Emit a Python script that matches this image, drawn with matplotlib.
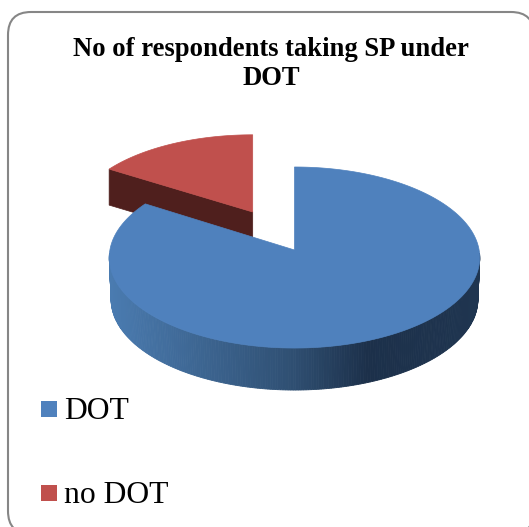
import numpy as np
import matplotlib
matplotlib.use("Agg")
import matplotlib.pyplot as plt
from matplotlib.patches import FancyBboxPatch, Polygon, Rectangle
from matplotlib.colors import LinearSegmentedColormap

title = "No of respondents taking SP under\nDOT"
labels = ["DOT", "no DOT"]
values = [84, 16]
colors = ["#4f81bd", "#c0504d"]

# pie geometry in pixels of the picture
rx = 184.6
ry = 89.9
persp = 0.083
blue_apex = (294.5, 250)
blue_depth = 42
red_apex = (252.7, 212)
red_depth = 36
red_sx = 0.962
red_sy = 0.93


# tilted circle -> picture coordinates, angle in degrees clockwise from 12 o'clock
def project(angle, apex, sx=1.0, sy=1.0):
    a = np.radians(angle)
    u = np.sin(a)
    v = np.cos(a)
    w = 1 + persp * v
    return apex[0] + sx * rx * u / w, apex[1] - sy * ry * v / w


fig = plt.figure(figsize=(5.29, 5.27), dpi=100)
ax = fig.add_axes([0, 0, 1, 1])
ax.set_xlim(0, 529)
ax.set_ylim(527, 0)
ax.axis("off")

# chart border, runs off the right and bottom of the picture
ax.add_patch(FancyBboxPatch((8, 12), 526, 522, boxstyle="round,pad=0,rounding_size=23",
                            facecolor="white", edgecolor="#868686", linewidth=1.5, zorder=0))

split = 360 * values[0] / sum(values)

# red slice, dark cut face then top
rt = np.linspace(split, 360, 60)
rxs, rys = project(rt, red_apex, red_sx, red_sy)
tip = (rxs[0], rys[0])
ax.add_patch(Polygon([tip, red_apex, (red_apex[0], red_apex[1] + red_depth),
                      (tip[0], tip[1] + red_depth)], facecolor="#4f1f1d", edgecolor="#4f1f1d",
                     linewidth=0.5, zorder=1))
ax.add_patch(Polygon(np.r_[[red_apex], np.c_[rxs, rys]], facecolor=colors[1], edgecolor=colors[1],
                     linewidth=0.5, zorder=2))

# blue side wall with the shading from left to right
wall_cmap = LinearSegmentedColormap.from_list(
    "wall", [(0, "#4a7bb0"), (0.5, "#2f4f72"), (0.7, "#1c304a"), (1, "#1f3550")])
wall = np.linspace(92, 268, 240)
x0, y0 = project(wall, blue_apex)
x1, y1 = project(wall, blue_apex, 0.99, 1.0)
y1 = y1 + blue_depth
for i in range(len(wall) - 1):
    shade = (x0[i] - x0.min()) / (x0.max() - x0.min())
    c = wall_cmap(shade)
    ax.add_patch(Polygon([(x0[i], y0[i]), (x0[i + 1], y0[i + 1]), (x1[i + 1], y1[i + 1]), (x1[i], y1[i])],
                         facecolor=c, edgecolor=c, linewidth=0.6, zorder=3))

# blue top
bt = np.linspace(0, split, 300)
bxs, bys = project(bt, blue_apex)
ax.add_patch(Polygon(np.r_[[blue_apex], np.c_[bxs, bys]], facecolor=colors[0], edgecolor=colors[0],
                     linewidth=0.5, zorder=4))

ax.text(271, 64, title, family="Liberation Serif", fontweight="bold", fontsize=19.2,
        ha="center", va="center", linespacing=1.18, color="black")

legend_y = [409, 493]
for lab, col, ly in zip(labels, colors, legend_y):
    ax.add_patch(Rectangle((41, ly - 8), 16, 16, facecolor=col, edgecolor="none"))
    ax.text(64, ly + 10, lab, family="Liberation Serif", fontsize=22.8, ha="left", va="baseline", color="black")

fig.savefig("out.png", dpi=100)
